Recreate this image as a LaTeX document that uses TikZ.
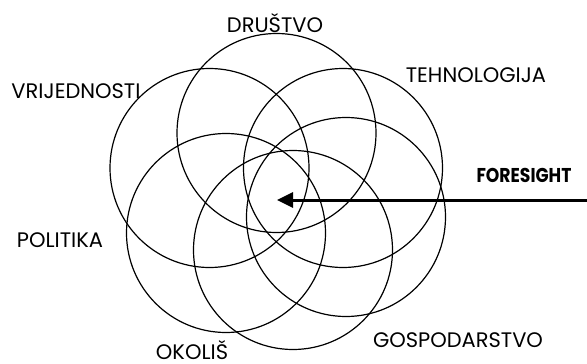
\documentclass[tikz,border=0pt]{standalone}
\usepackage{fontspec}
\usepackage{graphicx}
\setmainfont{Poppins}
\usetikzlibrary{arrows.meta}
\begin{document}
\begin{tikzpicture}[x=1pt,y=-1pt,
  ring/.style={circle,draw,line width=1.2pt,minimum size=199pt,inner sep=0pt,outer sep=0pt},
  lbl/.style={anchor=base,inner sep=0pt,font=\fontsize{21}{23}\selectfont},
  ptr/.style={line width=3pt,-{Triangle[length=16pt,width=15pt]}}]
\useasboundingbox (0,0) rectangle (587,364);
\node[ring] (cD) at (276.5,133) {};
\node[ring] (cV) at (209.5,168) {};
\node[ring] (cT) at (343,168) {};
\node[ring] (cP) at (226,233) {};
\node[ring] (cO) at (293,250) {};
\node[ring] (cG) at (346,217) {};
\node[lbl] (tD) at (275,32) {DRUŠTVO};
\node[lbl] (tT) at (476,82) {TEHNOLOGIJA};
\node[lbl] (tV) at (76,98) {VRIJEDNOSTI};
\node[lbl,font=\fontsize{20}{22}\selectfont\bfseries] (tF) at (524,182) {\scalebox{0.86}[1]{FORESIGHT}};
\node[lbl] (tP) at (60,247) {POLITIKA};
\node[lbl] (tG) at (458,347) {GOSPODARSTVO};
\node[lbl] (tO) at (192,359) {OKOLIŠ};
\coordinate (aS) at (587,200);
\coordinate (aE) at (277,200);
\draw[ptr] (aS) -- (aE);
\end{tikzpicture}
\end{document}
